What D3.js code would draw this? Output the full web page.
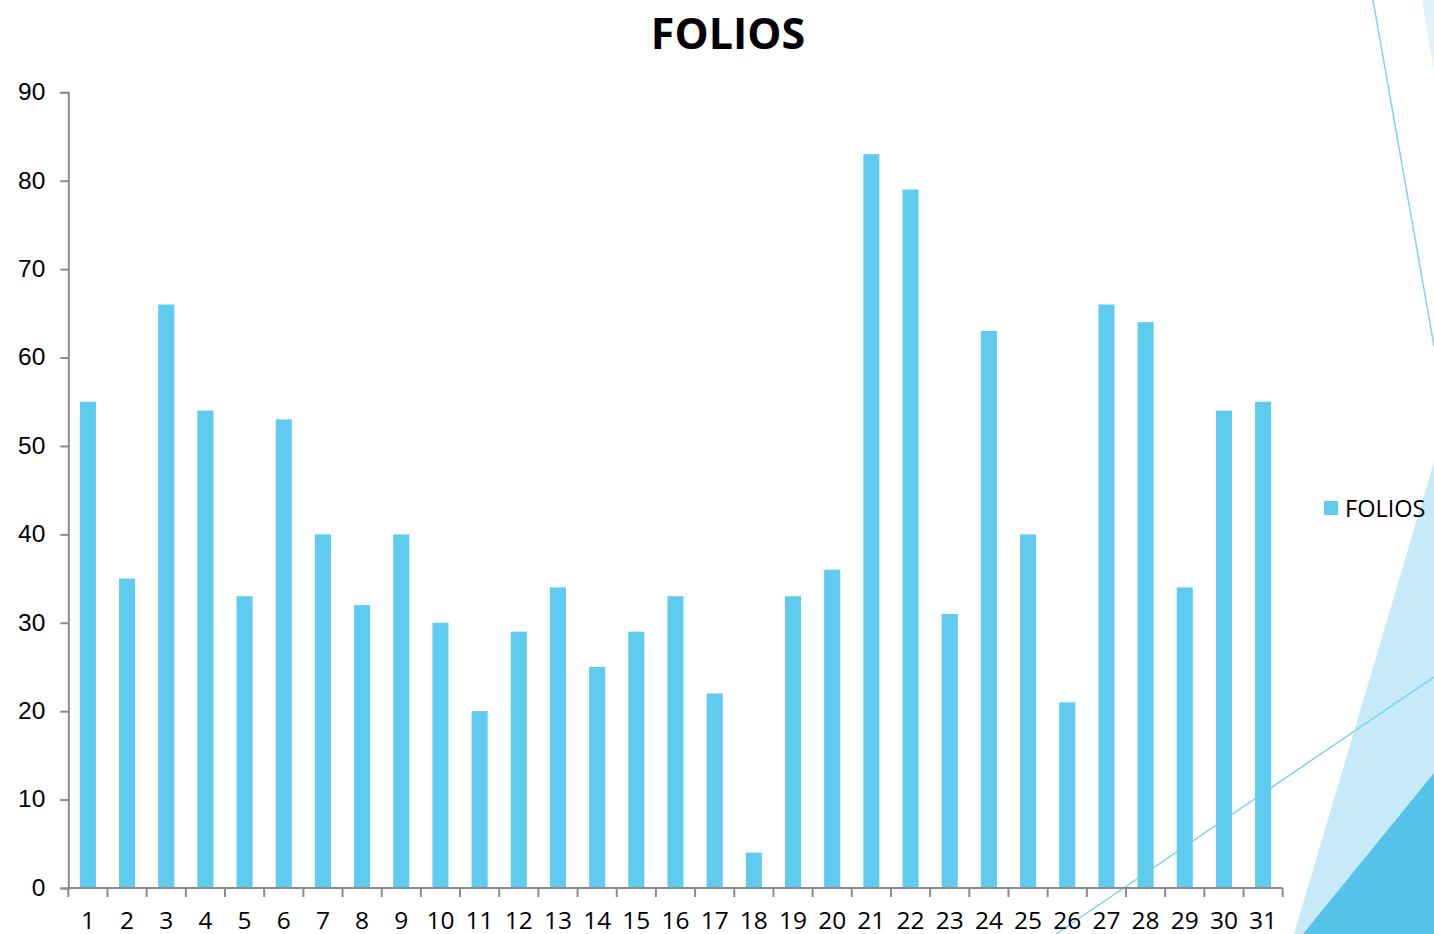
<!DOCTYPE html>
<html>
<head>
<meta charset="utf-8">
<script src="https://cdn.jsdelivr.net/npm/d3@7"></script>
<style>
  body { margin: 0; background: #fff; }
  svg { display: block; font-family: "Open Sans", "DejaVu Sans", sans-serif; }
  .axis path, .axis line { stroke: #8c8c8c; stroke-width: 2; }
  .axis text { fill: #000; font-size: 24.5px; }
</style>
</head>
<body>
<script>
// days of the month and folio counts per day
var days = d3.range(1, 32).map(String);
var folios = [55, 35, 66, 54, 33, 53, 40, 32, 40, 30, 20, 29, 34, 25, 29, 33,
              22, 4, 33, 36, 83, 79, 31, 63, 40, 21, 66, 64, 34, 54, 55];
var yTicks = [0, 10, 20, 30, 40, 50, 60, 70, 80, 90];
var seriesName = "FOLIOS";

var width = 1434, height = 934;

var svg = d3.select("body").append("svg")
    .attr("width", width)
    .attr("height", height);

// slide decoration on the right side
var deco = svg.append("g").attr("class", "deco");
deco.append("polygon").attr("points", "1422,0 1434,0 1434,70").attr("fill", "#dff2f9");
deco.append("polygon").attr("points", "1434,462 1434,934 1294,934").attr("fill", "#c6eaf7");
deco.append("polygon").attr("points", "1434,773 1434,934 1303,934").attr("fill", "#55c3e9");
deco.append("line").attr("x1", 1373).attr("y1", 0).attr("x2", 1434).attr("y2", 346)
    .attr("stroke", "#80d4f0").attr("stroke-width", 1.5);
deco.append("line").attr("x1", 1056).attr("y1", 934).attr("x2", 1434).attr("y2", 677)
    .attr("stroke", "#80d4f0").attr("stroke-width", 1.5);

var x = d3.scaleBand()
    .domain(days)
    .range([68.3, 1282.7])
    .paddingInner(0.59)
    .paddingOuter(0.295);

var xTicks = d3.scaleBand().domain(days).range([68.3, 1282.7]);

var y = d3.scaleLinear()
    .domain([0, 90])
    .range([888, 92.3]);

// bars
svg.append("g")
    .selectAll("rect")
    .data(folios)
    .enter().append("rect")
    .attr("x", function (d, i) { return x(days[i]); })
    .attr("y", function (d) { return y(d); })
    .attr("width", x.bandwidth())
    .attr("height", function (d) { return y(0) - y(d); })
    .attr("fill", "#5ecbef");

// y axis
var yAxis = svg.append("g")
    .attr("class", "axis")
    .attr("transform", "translate(68.3,0)")
    .call(d3.axisLeft(y).tickValues(yTicks).tickSize(8).tickSizeOuter(8).tickPadding(15));
yAxis.selectAll("text").attr("dy", "0.3em");

// x axis: ticks on the category boundaries, labels centred on bands
var xAxis = svg.append("g")
    .attr("class", "axis")
    .attr("transform", "translate(0,888)");
xAxis.append("line")
    .attr("x1", 68.3).attr("x2", 1282.7)
    .attr("y1", 0).attr("y2", 0);
xAxis.selectAll(".tk")
    .data(days.concat(["end"]))
    .enter().append("line")
    .attr("class", "tk")
    .attr("x1", function (d, i) { return 68.3 + i * xTicks.step(); })
    .attr("x2", function (d, i) { return 68.3 + i * xTicks.step(); })
    .attr("y1", 0).attr("y2", 9);
xAxis.selectAll("text")
    .data(days)
    .enter().append("text")
    .attr("x", function (d) { return xTicks(d) + xTicks.bandwidth() / 2; })
    .attr("y", 41)
    .attr("text-anchor", "middle")
    .text(function (d) { return d; });

// title
svg.append("text")
    .attr("x", 728)
    .attr("y", 49)
    .attr("text-anchor", "middle")
    .style("font-size", "43px")
    .style("font-weight", "bold")
    .text(seriesName);

// legend
var legend = svg.append("g").attr("transform", "translate(1324,501)");
legend.append("rect").attr("width", 14).attr("height", 14).attr("fill", "#5ecbef");
legend.append("text")
    .attr("x", 21).attr("y", 16)
    .style("font-size", "23.5px")
    .text(seriesName);
</script>
</body>
</html>
